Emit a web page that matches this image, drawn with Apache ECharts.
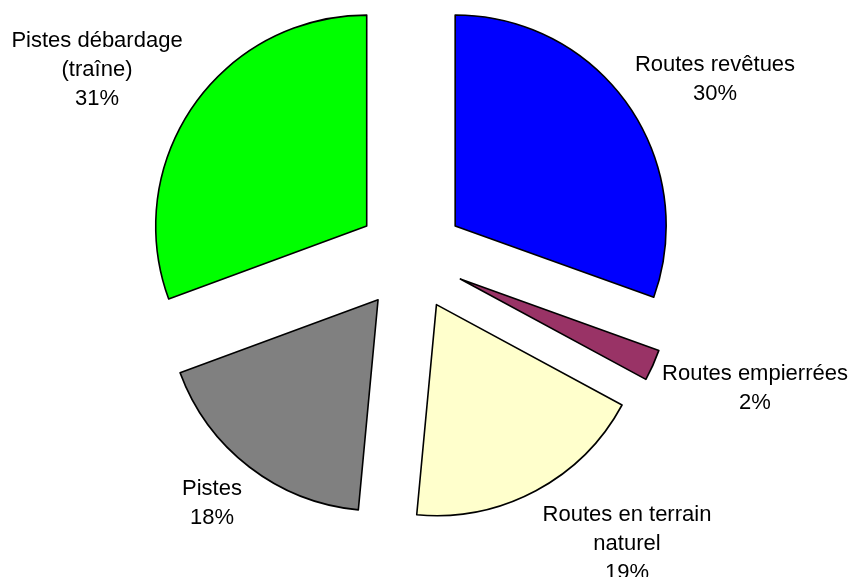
<!DOCTYPE html>
<html>
<head>
<meta charset="utf-8">
<script src="https://cdn.jsdelivr.net/npm/echarts@6/dist/echarts.min.js"></script>
<style>
html,body{margin:0;padding:0;background:#fff;}
#chart{width:852px;height:577px;}
</style>
</head>
<body>
<div id="chart"></div>
<script>
// Data (clockwise from 12 o'clock), shares in %
var categories = ['Routes revêtues', 'Routes empierrées', 'Routes en terrain\nnaturel', 'Pistes', 'Pistes débardage\n(traîne)'];
var values = [30.49, 2.4, 18.6, 17.9, 30.61];
var colors = ['#0000FF', '#993366', '#FFFFCC', '#808080', '#00FF00'];

// Label placement (layout only)
var labelPos = [[715, 79], [755, 388], [627, 544], [212, 503], [97, 70]];

var chart = echarts.init(document.getElementById('chart'), null, {renderer: 'canvas'});
var data = categories.map(function (c, i) {
  return {
    name: c,
    value: values[i],
    selected: true,
    itemStyle: {color: colors[i]}
  };
});
var labels = categories.map(function (c, i) {
  return {
    type: 'text',
    x: labelPos[i][0],
    y: labelPos[i][1],
    silent: true,
    style: {
      text: c + '\n' + Math.round(values[i]) + '%',
      fill: '#000000',
      font: '22px "Liberation Sans", Arial, sans-serif',
      lineHeight: 29,
      align: 'center',
      verticalAlign: 'middle'
    }
  };
});
chart.setOption({
  animation: false,
  backgroundColor: '#ffffff',
  graphic: labels,
  series: [{
    type: 'pie',
    center: [411, 257],
    radius: [0, 211],
    startAngle: 90,
    clockwise: true,
    selectedMode: 'multiple',
    selectedOffset: 54,
    avoidLabelOverlap: false,
    emphasis: {disabled: true},
    select: {itemStyle: {borderColor: '#000000', borderWidth: 1.6}},
    itemStyle: {borderColor: '#000000', borderWidth: 1.6},
    label: {show: false},
    labelLine: {show: false},
    data: data
  }]
});
</script>
</body>
</html>
